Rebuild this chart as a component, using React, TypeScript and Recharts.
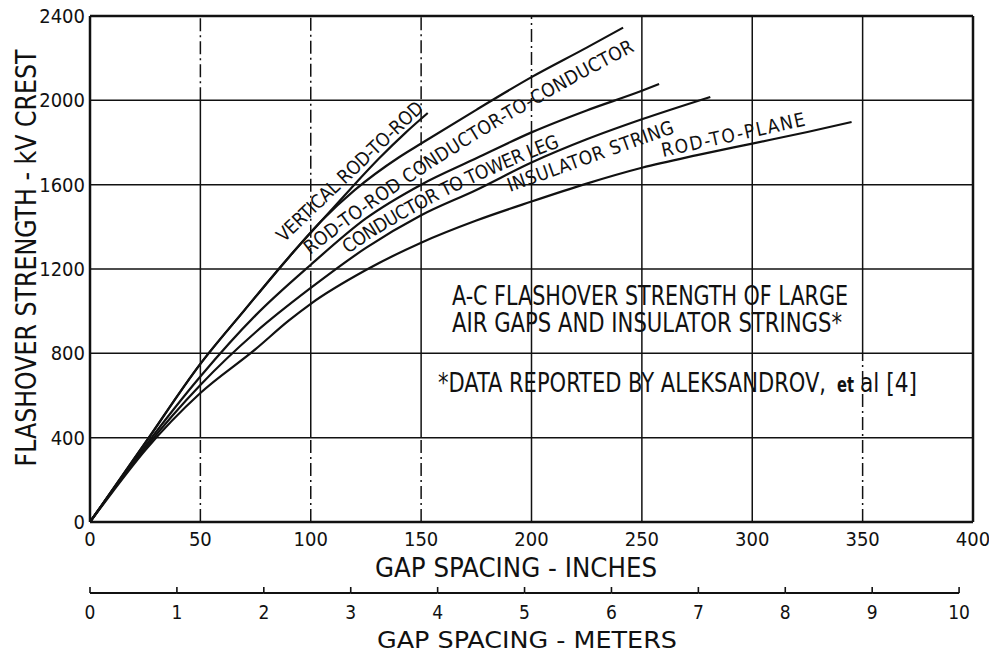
import React from 'react';
import { LineChart, Line, XAxis, YAxis, CartesianGrid, ReferenceLine } from 'recharts';

// gap in inches, strength in kV crest
const verticalRodGap = [0, 10, 25, 50, 70, 90, 105, 118, 131, 143, 153];
const verticalRodKv = [0, 150, 375, 750, 1005, 1255, 1430, 1580, 1725, 1847, 1940];

const condCondGap = [0, 10, 25, 50, 70, 90, 105, 120, 140, 150, 175, 200, 225, 241.5];
const condCondKv = [0, 150, 375, 750, 1005, 1255, 1430, 1575, 1730, 1795, 1955, 2110, 2250, 2345];

const towerLegGap = [0, 10, 25, 50, 75, 100, 125, 150, 175, 200, 225, 250, 257.8];
const towerLegKv = [0, 148, 360, 690, 980, 1220, 1440, 1600, 1725, 1848, 1952, 2045, 2077];

const insulatorGap = [0, 10, 25, 50, 75, 100, 125, 150, 175, 200, 225, 250, 281];
const insulatorKv = [0, 145, 350, 650, 900, 1110, 1300, 1455, 1575, 1705, 1815, 1910, 2016];

const rodPlaneGap = [0, 10, 25, 50, 75, 90, 100, 125, 150, 175, 200, 225, 250, 275, 300, 325, 345];
const rodPlaneKv = [0, 140, 340, 612, 820, 955, 1035, 1195, 1325, 1430, 1520, 1605, 1680, 1740, 1795, 1850, 1897];

const inchTicks = [0, 50, 100, 150, 200, 250, 300, 350, 400];
const kvTicks = [0, 400, 800, 1200, 1600, 2000, 2400];
const meterTicks = [0, 1, 2, 3, 4, 5, 6, 7, 8, 9, 10];
const INCH_PER_M = 39.37;

// vertical grid lines: [gap, kv from, kv to, dashed]
const vGrid: [number, number, number, boolean][] = [
  [50, 2000, 2400, true], [50, 400, 2000, false], [50, 0, 400, true],
  [100, 1130, 2400, true], [100, 400, 1130, false], [100, 0, 400, true],
  [150, 1460, 2400, true], [150, 400, 1460, false], [150, 0, 400, true],
  [200, 1840, 2400, true], [200, 0, 1840, false],
  [250, 0, 2400, false],
  [300, 0, 2400, false],
  [350, 800, 2400, false], [350, 0, 800, true],
];

const zip = (gap: number[], kv: number[]) => gap.map((g, i) => ({ gap: g, kv: kv[i] }));

const FONT = '"DejaVu Sans Condensed", "DejaVu Sans", sans-serif';
const INK = '#111';

const PLOT_W = 883;
const METER_STEP = PLOT_W / (400 / INCH_PER_M);

const InchTick = ({ x, y, payload }: any) => (
  <text x={x} y={y + 24} textAnchor="middle" fontSize={20} fontFamily={FONT} fill={INK}>
    {payload.value}
  </text>
);

const MeterTick = ({ x, y, payload }: any) => (
  <g>
    <line x1={x} y1={y} x2={x} y2={y - 6} stroke={INK} strokeWidth={1.6} />
    {payload.value < 10 && (
      <line x1={x} y1={y} x2={x + METER_STEP} y2={y} stroke={INK} strokeWidth={2.2} />
    )}
    <text x={x} y={y + 26} textAnchor="middle" fontSize={19} fontFamily={FONT} fill={INK}>
      {payload.value}
    </text>
  </g>
);

// curve label lettered along a quadratic baseline p0 -> c -> p2
const PathLabel = ({ id, p0, c, p2, children }: any) => {
  let len = 0;
  let prev = p0;
  for (let i = 1; i <= 40; i++) {
    const t = i / 40;
    const a = (1 - t) * (1 - t);
    const b = 2 * t * (1 - t);
    const d = t * t;
    const pt = [a * p0[0] + b * c[0] + d * p2[0], a * p0[1] + b * c[1] + d * p2[1]];
    len += Math.hypot(pt[0] - prev[0], pt[1] - prev[1]);
    prev = pt;
  }
  return (
    <g>
      <defs>
        <path id={id} d={`M${p0[0]},${p0[1]} Q${c[0]},${c[1]} ${p2[0]},${p2[1]}`} fill="none" />
      </defs>
      <text fontSize={19} fontFamily={FONT} fill={INK}>
        <textPath href={`#${id}`} textLength={len - 2} lengthAdjust="spacing">
          {children}
        </textPath>
      </text>
    </g>
  );
};

export default function App() {
  const series = [
    zip(verticalRodGap, verticalRodKv),
    zip(condCondGap, condCondKv),
    zip(towerLegGap, towerLegKv),
    zip(insulatorGap, insulatorKv),
    zip(rodPlaneGap, rodPlaneKv),
  ];

  return (
    <div style={{ position: 'absolute', left: 0, top: 0, background: '#fff' }}>
      <LineChart width={989} height={654} margin={{ top: 16, right: 16, left: 0, bottom: 0 }}>
        <CartesianGrid
          xAxisId="in"
          stroke={INK}
          strokeWidth={1.5}
          vertical={false}
          horizontalValues={[400, 800, 1200, 1600, 2000]}
        />
        <XAxis
          xAxisId="in"
          dataKey="gap"
          type="number"
          domain={[0, 400]}
          allowDataOverflow
          ticks={inchTicks}
          tick={<InchTick />}
          tickLine={false}
          axisLine={false}
          tickSize={0}
          tickMargin={0}
          height={71}
          interval={0}
        />
        <XAxis
          xAxisId="m"
          dataKey="gap"
          type="number"
          domain={[0, 400 / INCH_PER_M]}
          allowDataOverflow
          ticks={meterTicks}
          tick={<MeterTick />}
          tickLine={false}
          axisLine={false}
          tickSize={0}
          tickMargin={0}
          height={61}
          interval={0}
        />
        <YAxis
          dataKey="kv"
          type="number"
          domain={[0, 2400]}
          allowDataOverflow
          ticks={kvTicks}
          width={90}
          tickLine={false}
          axisLine={false}
          tickSize={0}
          tickMargin={5}
          tick={{ fontSize: 20, fontFamily: FONT, fill: INK }}
          interval={0}
        />
        {vGrid.map(([g, k0, k1, dashed], i) => (
          <ReferenceLine
            key={`vg${i}`}
            xAxisId="in"
            segment={[{ x: g, y: k0 }, { x: g, y: k1 }]}
            stroke={INK}
            strokeWidth={1.5}
            strokeDasharray={dashed ? '13 4 2 4' : undefined}
          />
        ))}
        <ReferenceLine xAxisId="in" x={0} stroke={INK} strokeWidth={2.5} />
        <ReferenceLine xAxisId="in" x={400} stroke={INK} strokeWidth={2.5} />
        <ReferenceLine xAxisId="in" y={0} stroke={INK} strokeWidth={2.5} />
        <ReferenceLine xAxisId="in" y={2400} stroke={INK} strokeWidth={2.5} />

        {series.map((d, i) => (
          <Line
            key={i}
            xAxisId="in"
            data={d}
            dataKey="kv"
            type="monotone"
            stroke={INK}
            strokeWidth={2.2}
            dot={false}
            isAnimationActive={false}
          />
        ))}

        <text
          transform="translate(36,258) rotate(-90)"
          textAnchor="middle"
          fontSize={29}
          fontFamily={FONT}
          fill={INK}
          textLength={417}
          lengthAdjust="spacingAndGlyphs"
        >
          FLASHOVER STRENGTH - kV CREST
        </text>
        <text x={516} y={577} textAnchor="middle" fontSize={26} fontFamily={FONT} fill={INK} textLength={282} lengthAdjust="spacingAndGlyphs">
          GAP SPACING - INCHES
        </text>
        <text x={527} y={648} textAnchor="middle" fontSize={23} fontFamily={FONT} fill={INK} textLength={300} lengthAdjust="spacingAndGlyphs">
          GAP SPACING - METERS
        </text>

        <text x={452} y={305} fontSize={26} fontFamily={FONT} fill={INK} textLength={396} lengthAdjust="spacingAndGlyphs">
          A-C FLASHOVER STRENGTH OF LARGE
        </text>
        <text x={452} y={332} fontSize={26} fontFamily={FONT} fill={INK} textLength={390} lengthAdjust="spacingAndGlyphs">
          AIR GAPS AND INSULATOR STRINGS*
        </text>
        <text x={438} y={392} fontSize={26} fontFamily={FONT} fill={INK} textLength={388} lengthAdjust="spacingAndGlyphs">
          *DATA REPORTED BY ALEKSANDROV,
        </text>
        <text x={837} y={392} fontSize={21} fontWeight="bold" fontFamily={FONT} fill={INK} textLength={17} lengthAdjust="spacingAndGlyphs">
          et
        </text>
        <text x={860} y={392} fontSize={26} fontFamily={FONT} fill={INK} textLength={57} lengthAdjust="spacingAndGlyphs">
          al [4]
        </text>

        <PathLabel id="lbl-vrr" p0={[284, 243]} c={[354, 176]} p2={[426, 108]}>VERTICAL ROD-TO-ROD</PathLabel>
        <PathLabel id="lbl-cc" p0={[310, 255]} c={[451, 145]} p2={[637, 50]}>ROD-TO-ROD CONDUCTOR-TO-CONDUCTOR</PathLabel>
        <PathLabel id="lbl-tl" p0={[348, 254]} c={[430, 196]} p2={[562, 146]}>CONDUCTOR TO TOWER LEG</PathLabel>
        <PathLabel id="lbl-is" p0={[510, 192]} c={[594, 162]} p2={[677, 132]}>INSULATOR STRING</PathLabel>
        <PathLabel id="lbl-rp" p0={[663, 157]} c={[736, 141]} p2={[808, 125]}>ROD-TO-PLANE</PathLabel>
      </LineChart>
    </div>
  );
}
